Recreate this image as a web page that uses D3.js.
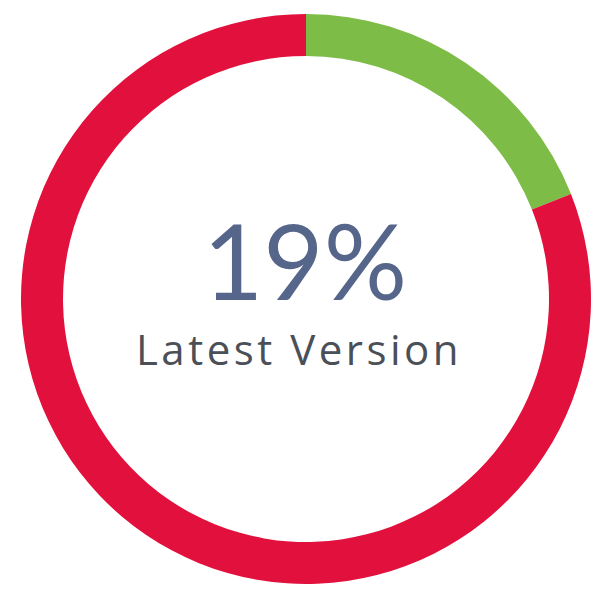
<!DOCTYPE html>
<html>
<head>
<meta charset="utf-8">
<script src="https://cdn.jsdelivr.net/npm/d3@7"></script>
<style>
  html, body { margin: 0; padding: 0; background: #fff; }
  svg { display: block; }
</style>
</head>
<body>
<svg></svg>
<script>
let categories = ['Latest Version', 'Older Versions'];
let values = [19, 81];
let colors = ['#7dbc46', '#e2103d'];

let svgWidth = 594, svgHeight = 589;
let cx = 306, cy = 299, outer = 285, inner = 243;

let svg = d3.select('svg')
            .attr('width', svgWidth)
            .attr('height', svgHeight);

let g = svg.append('g')
           .attr('transform', 'translate(' + cx + ',' + cy + ')');

let color = d3.scaleOrdinal().domain(categories).range(colors);

let pie = d3.pie().sort(null).value(d => d.value);

let data = categories.map((c, i) => ({ name: c, value: values[i] }));

let path = d3.arc()
             .outerRadius(outer)
             .innerRadius(inner);

g.selectAll('path')
 .data(pie(data))
 .enter()
 .append('path')
 .attr('d', path)
 .attr('fill', d => color(d.data.name));

let total = d3.sum(values);

g.append('text')
 .attr('x', -1)
 .attr('y', 1)
 .attr('text-anchor', 'middle')
 .attr('font-family', 'Lato, sans-serif')
 .attr('font-weight', 400)
 .attr('font-size', 104)
 .attr('fill', '#56658a')
 .text(Math.round(values[0] / total * 100) + '%');

g.append('text')
 .attr('x', -7)
 .attr('y', 66)
 .attr('text-anchor', 'middle')
 .attr('font-family', '"Open Sans", sans-serif')
 .attr('font-weight', 400)
 .attr('font-size', 42)
 .attr('letter-spacing', 3.5)
 .attr('fill', '#4a4f58')
 .text(categories[0]);
</script>
</body>
</html>
